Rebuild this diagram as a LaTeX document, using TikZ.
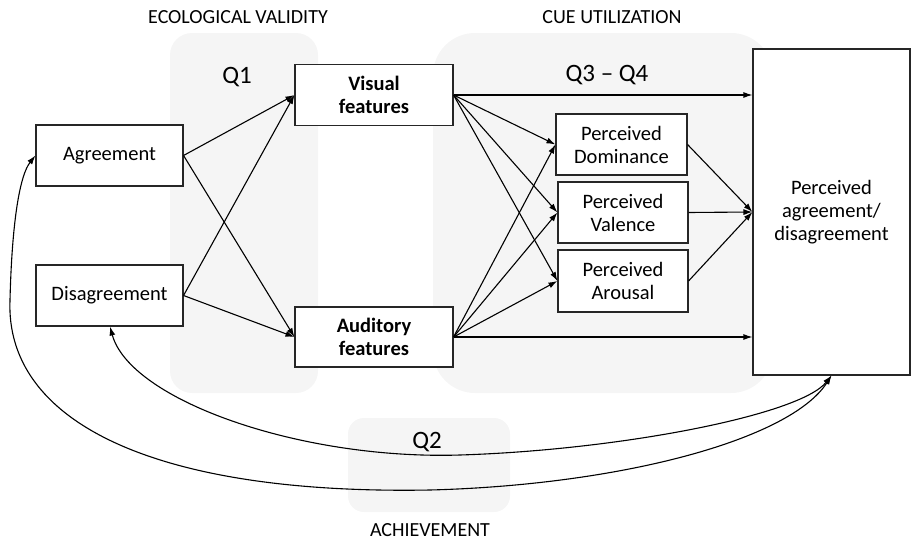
\documentclass[tikz,border=0pt]{standalone}
\usepackage{fontspec}
\setmainfont{Carlito}
\usetikzlibrary{arrows.meta,calc}

\begin{document}
\begin{tikzpicture}[x=1pt,y=-1pt,
  box/.style={draw=black!85,line width=1.1pt,fill=white,align=center,inner sep=0pt,font=\fontsize{20.5}{23}\selectfont},
  panel/.style={fill=black!4,draw=none},
  title/.style={font=\fontsize{20}{22}\selectfont},
  qlabel/.style={font=\fontsize{25}{28}\selectfont},
  arr/.style={line width=1.1pt,-{Latex[length=9pt,width=6pt]}},
  twoway/.style={line width=1.1pt,{Latex[length=9pt,width=6pt]}-{Latex[length=9pt,width=6pt]}}]
\useasboundingbox (0,0) rectangle (911,541);
% grey backgrounds
\fill[panel,rounded corners=22pt] (170,33) rectangle (318,393);
\fill[panel,rounded corners=42pt] (433,33) rectangle (773,393);
\fill[panel,rounded corners=16pt] (348,418) rectangle (510,512);
\node[title] at (238,17) {ECOLOGICAL VALIDITY};
\node[title] at (612,17) {CUE UTILIZATION};
\node[title] at (430,530) {ACHIEVEMENT};
\node[qlabel] at (237,77) {Q1};
\node[qlabel] at (607,75) {Q3 -- Q4};
\node[qlabel] at (427,442) {Q2};
% boxes
\node[box,minimum width=147pt,minimum height=61pt] (agr) at (109.5,155.5) {Agreement};
\node[box,minimum width=147pt,minimum height=61pt] (dis) at (109.5,295.5) {Disagreement};
\node[box,minimum width=158pt,minimum height=61pt,font=\fontsize{20.5}{23}\selectfont\bfseries] (vis) at (374,95) {Visual\\features};
\node[box,minimum width=158pt,minimum height=60pt,font=\fontsize{20.5}{23}\selectfont\bfseries] (aud) at (374,337) {Auditory\\features};
\node[box,minimum width=131pt,minimum height=61pt] (dom) at (621.5,144.5) {Perceived\\Dominance};
\node[box,minimum width=130pt,minimum height=61pt] (val) at (623,212.5) {Perceived\\Valence};
\node[box,minimum width=130pt,minimum height=62pt] (aro) at (623,281) {Perceived\\Arousal};
\node[box,minimum width=157pt,minimum height=326pt] (per) at (831.5,212) {Perceived\\agreement/\\disagreement};
% ecological validity
\foreach \s in {agr,dis} \foreach \t in {vis,aud} \draw[arr] (\s.east) -- (\t.west);
% cue utilization
\foreach \s in {vis,aud} {
  \foreach \t in {dom,val,aro} \draw[arr] (\s.east) -- (\t.west);
  \draw[arr] (\s.east) -- (\s.east -| per.west);
}
\foreach \t in {dom,val,aro} \draw[arr] (\t.east) -- (per.west);
% achievement
\draw[twoway] (per.south) .. controls (800,415) and (620,450) .. (460,455)
  .. controls (300,460) and (130,400) .. (dis.south -| 110,0);
\draw[twoway] (per.south) .. controls (790,440) and (620,485) .. (430,490)
  .. controls (150,495) and (5,420) .. (10,300)
  .. controls (12,220) and (20,175) .. (agr.west);
\end{tikzpicture}
\end{document}
